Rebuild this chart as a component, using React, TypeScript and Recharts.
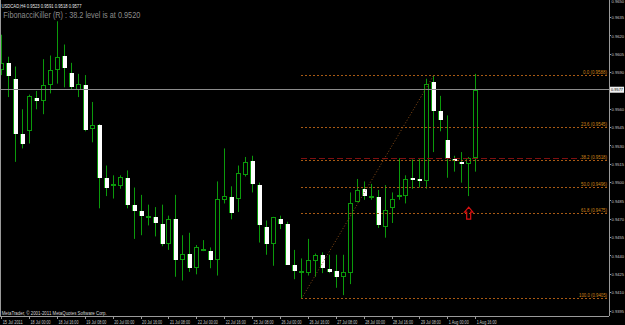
import { ComposedChart, Bar, XAxis, YAxis, ReferenceLine, ReferenceDot } from "recharts";

// USDCAD H4, one entry per bar (15 Jul 08:00 .. 1 Aug 16:00)
const opens = [
  0.9592, 0.9598, 0.9585, 0.954, 0.9542, 0.9569, 0.9567, 0.958, 0.9592, 0.9604,
  0.959, 0.9576, 0.958, 0.9544, 0.9547, 0.9504, 0.9498, 0.9497, 0.9504, 0.9482,
  0.9477, 0.9472, 0.9472, 0.9466, 0.945, 0.947, 0.9437, 0.9442, 0.943, 0.9445,
  0.9444, 0.9437, 0.9486, 0.9488, 0.9487, 0.9506, 0.9518, 0.9498, 0.9464, 0.945,
  0.947, 0.9466, 0.9433, 0.9427, 0.9426, 0.9436, 0.9441, 0.9429, 0.9428, 0.9423,
  0.9426, 0.9484, 0.9495, 0.9488, 0.9488, 0.9464, 0.9479, 0.9488, 0.9489, 0.9504,
  0.9503, 0.9501, 0.9582, 0.9559, 0.9535, 0.9519, 0.9517, 0.9515, 0.952,
];
const highs = [
  0.9621, 0.9603, 0.9595, 0.956, 0.9572, 0.9575, 0.9601, 0.9604, 0.9632, 0.9613,
  0.9598, 0.9589, 0.9588, 0.9566, 0.9548, 0.9514, 0.9506, 0.9506, 0.951, 0.9496,
  0.949, 0.9482, 0.948, 0.9482, 0.9473, 0.949, 0.9457, 0.9459, 0.9449, 0.9453,
  0.9447, 0.9501, 0.9528, 0.9497, 0.9514, 0.9521, 0.9522, 0.95, 0.9469, 0.9472,
  0.9473, 0.9468, 0.9445, 0.9438, 0.9454, 0.9442, 0.9443, 0.9441, 0.9441, 0.9441,
  0.9492, 0.9503, 0.9501, 0.9499, 0.9494, 0.9498, 0.9492, 0.952, 0.9506, 0.9519,
  0.952, 0.9585, 0.9588, 0.9571, 0.9555, 0.9522, 0.9525, 0.9521, 0.9589,
];
const lows = [
  0.9588, 0.957, 0.9517, 0.9528, 0.9532, 0.956, 0.9556, 0.9573, 0.9581, 0.9578,
  0.9576, 0.957, 0.9542, 0.9533, 0.9479, 0.9489, 0.9487, 0.9495, 0.9479, 0.9454,
  0.9457, 0.9465, 0.9456, 0.9448, 0.9445, 0.9423, 0.942, 0.9427, 0.9425, 0.9444,
  0.943, 0.9424, 0.9483, 0.947, 0.9476, 0.9505, 0.9492, 0.9451, 0.9441, 0.9432,
  0.9462, 0.9433, 0.9421, 0.9405, 0.9424, 0.9423, 0.9426, 0.9426, 0.9414, 0.9408,
  0.9417, 0.9484, 0.9486, 0.9486, 0.9463, 0.9455, 0.9467, 0.9486, 0.9483, 0.9495,
  0.9496, 0.9495, 0.9525, 0.9542, 0.9504, 0.9509, 0.95, 0.9489, 0.9509,
];
const closes = [
  0.9598, 0.9587, 0.954, 0.9532, 0.9571, 0.9567, 0.958, 0.9592, 0.9603, 0.9594,
  0.9578, 0.9581, 0.9543, 0.9547, 0.9504, 0.9496, 0.9498, 0.9505, 0.9482, 0.9477,
  0.9473, 0.9472, 0.9467, 0.945, 0.947, 0.9437, 0.9442, 0.943, 0.9447, 0.9445,
  0.9437, 0.9487, 0.9489, 0.9475, 0.9508, 0.9517, 0.9499, 0.9465, 0.945, 0.9472,
  0.9466, 0.9433, 0.9428, 0.9427, 0.9437, 0.9441, 0.943, 0.9427, 0.9423, 0.9427,
  0.9483, 0.9494, 0.9489, 0.9488, 0.9465, 0.9478, 0.9487, 0.949, 0.9503, 0.9503,
  0.9501, 0.9581, 0.9559, 0.9551, 0.9519, 0.9518, 0.9515, 0.952, 0.9576,
];

const timeTicks = [0, 4, 8, 12, 16, 20, 24, 28, 32, 36, 40, 44, 48, 52, 56, 60, 64, 68];
const timeLabels = [
  "15 Jul 2011", "18 Jul 00:00", "18 Jul 16:00", "19 Jul 08:00", "20 Jul 00:00",
  "20 Jul 16:00", "21 Jul 08:00", "22 Jul 00:00", "22 Jul 16:00", "25 Jul 08:00",
  "26 Jul 00:00", "26 Jul 16:00", "27 Jul 08:00", "28 Jul 00:00", "28 Jul 16:00",
  "29 Jul 08:00", "1 Aug 00:00", "1 Aug 16:00",
];
const priceTicks = [
  0.9395, 0.941, 0.9425, 0.944, 0.9455, 0.947, 0.9485, 0.95, 0.9515, 0.953,
  0.9545, 0.956, 0.959, 0.9605, 0.962, 0.9635, 0.965,
];

// Fibonacci retracement drawn from the swing low bar to the swing high bar
const fibNames = ["0.0", "23.6", "38.2", "50.0", "61.8", "100.0"];
const fibLevels = [0.9588, 0.9545, 0.9518, 0.9496, 0.9475, 0.9405];
const swingLowBar = 43;
const swingHighBar = 62;
const signalLevel = 0.952;
const lastPrice = 0.9576;
const arrowBar = 67;
const arrowPrice = 0.9475;

const data = opens.map((o, i) => ({
  i,
  open: o,
  high: highs[i],
  low: lows[i],
  close: closes[i],
  range: [lows[i], highs[i]],
}));

const X_MIN = -0.2439;
const X_MAX = 87.13;
const Y_MIN = 0.939091;
const Y_MAX = 0.965022;
const SIGNAL_END = 83.1;

const GREEN = "#0b9a0b";
const AXIS = "#9a9a9a";
const TXT = "#c8c8c8";
const FIB = "#a85a14";
const FONT = "'Liberation Sans', Arial, sans-serif";

function Candle(props: any) {
  const { x, y, width, height, payload } = props;
  if (x == null || !payload) return null;
  const top = Math.min(y, y + height);
  const h = Math.abs(height);
  const span = payload.high - payload.low || 1e-9;
  const at = (v: number) => top + ((payload.high - v) / span) * h;
  const wx = Math.floor(x + width / 2);
  const bx = wx - 2;
  const yo = at(payload.open);
  const yc = at(payload.close);
  const bTop = Math.round(Math.min(yo, yc));
  const bBot = Math.round(Math.max(yo, yc));
  const bh = bBot - bTop;
  const bull = payload.close > payload.open;
  const flat = payload.close === payload.open;
  let body;
  if (flat) {
    body = <rect x={bx} y={Math.round(yo) - 1} width={5} height={2} fill={GREEN} />;
  } else if (bull) {
    body =
      bh < 3 ? (
        <rect x={bx} y={bTop} width={5} height={Math.max(bh, 2)} fill={GREEN} />
      ) : (
        <rect x={bx + 0.5} y={bTop + 0.5} width={4} height={bh - 1} fill="#000" stroke={GREEN} />
      );
  } else {
    body = (
      <g>
        <rect x={bx} y={bTop} width={5} height={Math.max(bh, 2)} fill="#fff" />
        <rect x={bx} y={bTop} width={1} height={Math.max(bh, 2)} fill={GREEN} />
      </g>
    );
  }
  return (
    <g>
      <rect x={wx} y={top} width={1} height={h} fill={GREEN} />
      {body}
    </g>
  );
}

function TimeTick(props: any) {
  const { x, y, payload } = props;
  const k = timeTicks.indexOf(payload.value);
  const text = timeLabels[k] ?? "";
  return (
    <text x={x + 1} y={y + 4} fontSize={5} fill={TXT} fontFamily={FONT}
      textLength={20} lengthAdjust="spacingAndGlyphs">
      {text}
    </text>
  );
}

function PriceTick(props: any) {
  const { x, y, payload } = props;
  // the topmost label sits right on the frame edge, keep it inside
  return (
    <text x={x - 0.5} y={Math.max(y + 1.6, 4.4)} fontSize={4.2} fill={TXT} fontFamily={FONT}
      textLength={12.5} lengthAdjust="spacingAndGlyphs">
      {Number(payload.value).toFixed(4)}
    </text>
  );
}

const fibLabel = (text: string) => (p: any) => {
  const vb = p.viewBox || {};
  return (
    <text x={(vb.x ?? 0) + (vb.width ?? 0) - 2} y={(vb.y ?? 0) - 1.5} textAnchor="end"
      fontSize={5} fill="#d08418" fontFamily={FONT}
      textLength={text.length * 2} lengthAdjust="spacingAndGlyphs">
      {text}
    </text>
  );
};

const priceBox = (p: any) => {
  const vb = p.viewBox || {};
  const bx = (vb.x ?? 0) + (vb.width ?? 0) + 1;
  const by = vb.y ?? 0;
  return (
    <g>
      <rect x={bx} y={by - 3} width={14} height={6} fill="#f0f0f0" />
      <text x={bx + 1} y={by + 1.6} fontSize={4.2} fill="#000" fontFamily={FONT}
        textLength={12} lengthAdjust="spacingAndGlyphs">
        0.9577
      </text>
    </g>
  );
};

function ArrowUp(p: any) {
  const { cx, cy } = p;
  if (cx == null) return null;
  const d = `M${cx} ${cy - 6} L${cx + 4.2} ${cy - 1} L${cx + 2} ${cy - 1} L${cx + 2} ${cy + 6} L${cx - 2} ${cy + 6} L${cx - 2} ${cy - 1} L${cx - 4.2} ${cy - 1} Z`;
  return <path d={d} fill="none" stroke="#d81010" strokeWidth={1.2} />;
}

export default function App() {
  return (
    <div style={{ position: "fixed", left: 0, top: 0, width: 625, height: 325, background: "#000", overflow: "hidden" }}>
      <div style={{ position: "absolute", left: 0, top: -1 }}>
        <ComposedChart width={625} height={326} data={data} margin={{ top: 0, right: 0, bottom: 0, left: 0 }}>
          <XAxis dataKey="i" type="number" domain={[X_MIN, X_MAX]} ticks={timeTicks} interval={0}
            allowDataOverflow height={9} tickSize={3} tickMargin={1} tick={TimeTick}
            stroke={AXIS} axisLine={{ stroke: AXIS, shapeRendering: "crispEdges" }}
            tickLine={{ stroke: AXIS, shapeRendering: "crispEdges" }} />
          <YAxis orientation="right" type="number" domain={[Y_MIN, Y_MAX]} ticks={priceTicks}
            interval={0} allowDataOverflow width={16} tickSize={2} tickMargin={1} tick={PriceTick}
            axisLine={{ stroke: AXIS, shapeRendering: "crispEdges" }}
            tickLine={{ stroke: AXIS, shapeRendering: "crispEdges" }} />
          <ReferenceLine y={lastPrice} stroke="#8c8c8c" ifOverflow="visible" shapeRendering="crispEdges" label={priceBox} />
          {fibLevels.map((v, k) => (
            <ReferenceLine key={k} segment={[{ x: swingLowBar, y: v }, { x: X_MAX, y: v }]}
              stroke={FIB} strokeDasharray="2 2" ifOverflow="visible" shapeRendering="crispEdges"
              label={fibLabel(`${fibNames[k]} (${v.toFixed(4)})`)} />
          ))}
          <ReferenceLine segment={[{ x: swingLowBar, y: signalLevel }, { x: SIGNAL_END, y: signalLevel }]}
            stroke="#801010" strokeDasharray="6 3" ifOverflow="visible" shapeRendering="crispEdges" />
          <ReferenceLine segment={[{ x: swingLowBar, y: fibLevels[5] }, { x: swingHighBar, y: fibLevels[0] }]}
            stroke="#8a4c16" strokeDasharray="1 2" ifOverflow="visible" />
          <Bar dataKey="range" barSize={5} shape={Candle} isAnimationActive={false} />
          <ReferenceDot x={arrowBar} y={arrowPrice} r={6} shape={ArrowUp} ifOverflow="visible" />
        </ComposedChart>
      </div>
      <svg width={625} height={325} style={{ position: "absolute", left: 0, top: 0, pointerEvents: "none" }}>
        <line x1={0.5} y1={0} x2={0.5} y2={316} stroke={AXIS} />
        <text x={1.5} y={8.3} fontSize={5.5} fill="#e8e8e8" fontFamily={FONT} textLength={80} lengthAdjust="spacingAndGlyphs">
          USDCAD,H4 0.9523 0.9591 0.9518 0.9577
        </text>
        <text x={3.3} y={17.6} fontSize={8.2} fill="#8c8c8c" fontFamily={FONT} textLength={137} lengthAdjust="spacingAndGlyphs">
          FibonacciKiller (R) : 38.2 level is at 0.9520
        </text>
        <text x={1.7} y={315} fontSize={5} fill="#d8d8d8" fontFamily={FONT} textLength={105} lengthAdjust="spacingAndGlyphs">
          MetaTrader, © 2001-2011 MetaQuotes Software Corp.
        </text>
      </svg>
    </div>
  );
}
